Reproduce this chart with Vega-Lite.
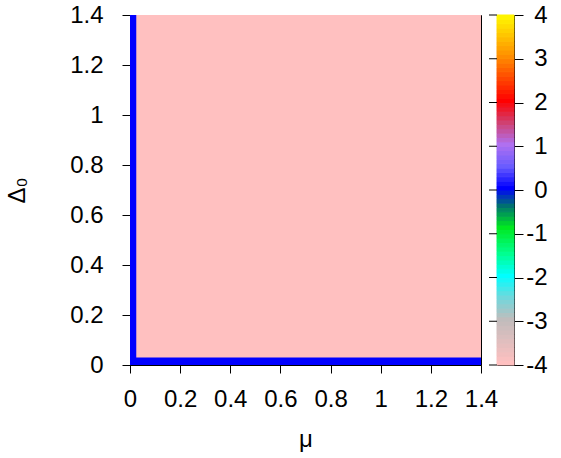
{
  "$schema": "https://vega.github.io/schema/vega-lite/v6.json",
  "background": "white",
  "padding": {"left": 5, "top": 2, "right": 5, "bottom": 5},
  "bounds": "flush",
  "spacing": 16,
  "config": {
    "font": "Liberation Sans",
    "view": {"stroke": "black", "strokeWidth": 1},
    "axis": {
      "labelFont": "Liberation Sans",
      "labelFontSize": 24,
      "labelColor": "black",
      "titleFont": "Liberation Sans",
      "titleFontSize": 24,
      "titleFontWeight": "normal",
      "titleColor": "black",
      "domainColor": "black",
      "tickColor": "black",
      "grid": false
    }
  },
  "datasets": {
    "field": [
      {"mu0": 0, "mu1": 1.4, "d0": 0, "d1": 1.4, "z": -4},
      {"mu0": 0, "mu1": 0.025, "d0": 0, "d1": 1.4, "z": 0},
      {"mu0": 0, "mu1": 1.4, "d0": 0, "d1": 0.03, "z": 0}
    ],
    "cbticks": [
      {"t": -4}, {"t": -3}, {"t": -2}, {"t": -1}, {"t": 0}, {"t": 1}, {"t": 2}, {"t": 3}, {"t": 4}
    ],
    "bar": [
      {"a": -4.0, "b": -3.9}, {"a": -3.9, "b": -3.8}, {"a": -3.8, "b": -3.7}, {"a": -3.7, "b": -3.6},
      {"a": -3.6, "b": -3.5}, {"a": -3.5, "b": -3.4}, {"a": -3.4, "b": -3.3}, {"a": -3.3, "b": -3.2},
      {"a": -3.2, "b": -3.1}, {"a": -3.1, "b": -3.0}, {"a": -3.0, "b": -2.9}, {"a": -2.9, "b": -2.8},
      {"a": -2.8, "b": -2.7}, {"a": -2.7, "b": -2.6}, {"a": -2.6, "b": -2.5}, {"a": -2.5, "b": -2.4},
      {"a": -2.4, "b": -2.3}, {"a": -2.3, "b": -2.2}, {"a": -2.2, "b": -2.1}, {"a": -2.1, "b": -2.0},
      {"a": -2.0, "b": -1.9}, {"a": -1.9, "b": -1.8}, {"a": -1.8, "b": -1.7}, {"a": -1.7, "b": -1.6},
      {"a": -1.6, "b": -1.5}, {"a": -1.5, "b": -1.4}, {"a": -1.4, "b": -1.3}, {"a": -1.3, "b": -1.2},
      {"a": -1.2, "b": -1.1}, {"a": -1.1, "b": -1.0}, {"a": -1.0, "b": -0.9}, {"a": -0.9, "b": -0.8},
      {"a": -0.8, "b": -0.7}, {"a": -0.7, "b": -0.6}, {"a": -0.6, "b": -0.5}, {"a": -0.5, "b": -0.4},
      {"a": -0.4, "b": -0.3}, {"a": -0.3, "b": -0.2}, {"a": -0.2, "b": -0.1}, {"a": -0.1, "b": 0.0},
      {"a": 0.0, "b": 0.1}, {"a": 0.1, "b": 0.2}, {"a": 0.2, "b": 0.3}, {"a": 0.3, "b": 0.4},
      {"a": 0.4, "b": 0.5}, {"a": 0.5, "b": 0.6}, {"a": 0.6, "b": 0.7}, {"a": 0.7, "b": 0.8},
      {"a": 0.8, "b": 0.9}, {"a": 0.9, "b": 1.0}, {"a": 1.0, "b": 1.1}, {"a": 1.1, "b": 1.2},
      {"a": 1.2, "b": 1.3}, {"a": 1.3, "b": 1.4}, {"a": 1.4, "b": 1.5}, {"a": 1.5, "b": 1.6},
      {"a": 1.6, "b": 1.7}, {"a": 1.7, "b": 1.8}, {"a": 1.8, "b": 1.9}, {"a": 1.9, "b": 2.0},
      {"a": 2.0, "b": 2.1}, {"a": 2.1, "b": 2.2}, {"a": 2.2, "b": 2.3}, {"a": 2.3, "b": 2.4},
      {"a": 2.4, "b": 2.5}, {"a": 2.5, "b": 2.6}, {"a": 2.6, "b": 2.7}, {"a": 2.7, "b": 2.8},
      {"a": 2.8, "b": 2.9}, {"a": 2.9, "b": 3.0}, {"a": 3.0, "b": 3.1}, {"a": 3.1, "b": 3.2},
      {"a": 3.2, "b": 3.3}, {"a": 3.3, "b": 3.4}, {"a": 3.4, "b": 3.5}, {"a": 3.5, "b": 3.6},
      {"a": 3.6, "b": 3.7}, {"a": 3.7, "b": 3.8}, {"a": 3.8, "b": 3.9}, {"a": 3.9, "b": 4.0}
    ]
  },
  "hconcat": [
    {
      "width": 351,
      "height": 350,
      "data": {"name": "field"},
      "mark": {"type": "rect", "strokeWidth": 0},
      "encoding": {
        "x": {
          "field": "mu0", "type": "quantitative",
          "scale": {"domain": [0, 1.4], "nice": false, "zero": false},
          "axis": {"title": "μ", "values": [0, 0.2, 0.4, 0.6, 0.8, 1, 1.2, 1.4], "labelExpr": "'' + datum.value", "tickSize": 8, "labelPadding": 14, "titlePadding": 16, "labelFlush": false}
        },
        "x2": {"field": "mu1"},
        "y": {
          "field": "d0", "type": "quantitative",
          "scale": {"domain": [0, 1.4], "nice": false, "zero": false},
          "axis": {"title": "Δ₀", "values": [0, 0.2, 0.4, 0.6, 0.8, 1, 1.2, 1.4], "labelExpr": "'' + datum.value", "tickSize": 8, "labelPadding": 19, "titlePadding": 40, "labelFlush": false}
        },
        "y2": {"field": "d1"},
        "color": {
          "field": "z", "type": "quantitative", "legend": null,
          "scale": {
            "domain": [-4, -3, -2.5, -2, -1.5, -0.9, -0.4, 0, 0.5, 1, 1.5, 2, 3, 4],
            "range": ["#ffc0c0", "#c0bcbc", "#70d8dc", "#00ffff", "#00ff90", "#00e820", "#007070", "#0000ff", "#6a5cff", "#b070f0", "#d04070", "#ff0000", "#ff8c00", "#ffff00"],
            "interpolate": "rgb"
          }
        }
      }
    },
    {
      "width": 17,
      "height": 350,
      "layer": [
        {
          "data": {"name": "bar"},
          "mark": {"type": "rect", "strokeWidth": 1},
          "encoding": {
            "x": {"datum": 0, "type": "quantitative", "scale": {"domain": [0, 1], "nice": false, "zero": false}, "axis": null},
            "x2": {"datum": 1},
            "y": {
              "field": "a", "type": "quantitative",
              "scale": {"domain": [-4, 4], "nice": false, "zero": false},
              "axis": {"orient": "right", "title": null, "domain": false, "tickSize": 9, "labelAlign": "right", "labelPadding": 24, "labelFlush": false, "labelExpr": "'' + datum.value", "values": [-4, -3, -2, -1, 0, 1, 2, 3, 4]}
            },
            "y2": {"field": "b"},
            "color": {
              "field": "a", "type": "quantitative", "legend": null,
              "scale": {
                "domain": [-4, -3, -2.5, -2, -1.5, -0.9, -0.4, 0, 0.5, 1, 1.5, 2, 3, 4],
                "range": ["#ffc0c0", "#c0bcbc", "#70d8dc", "#00ffff", "#00ff90", "#00e820", "#007070", "#0000ff", "#6a5cff", "#b070f0", "#d04070", "#ff0000", "#ff8c00", "#ffff00"],
                "interpolate": "rgb"
              }
            },
            "stroke": {
              "field": "a", "type": "quantitative", "legend": null,
              "scale": {
                "domain": [-4, -3, -2.5, -2, -1.5, -0.9, -0.4, 0, 0.5, 1, 1.5, 2, 3, 4],
                "range": ["#ffc0c0", "#c0bcbc", "#70d8dc", "#00ffff", "#00ff90", "#00e820", "#007070", "#0000ff", "#6a5cff", "#b070f0", "#d04070", "#ff0000", "#ff8c00", "#ffff00"],
                "interpolate": "rgb"
              }
            }
          }
        },
        {
          "data": {"name": "cbticks"},
          "mark": {"type": "rule", "color": "black", "strokeWidth": 1, "clip": false},
          "encoding": {
            "x": {"datum": -0.47, "type": "quantitative"},
            "x2": {"datum": 0},
            "y": {"field": "t", "type": "quantitative"}
          }
        }
      ]
    }
  ]
}
